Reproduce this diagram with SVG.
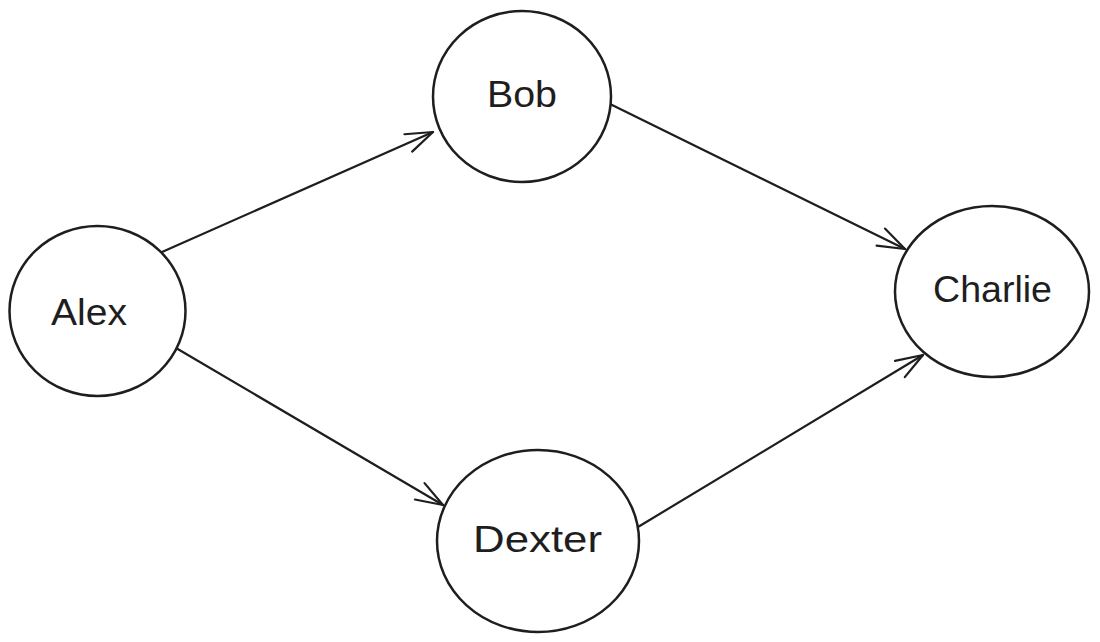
<svg xmlns="http://www.w3.org/2000/svg" width="1100" height="642" viewBox="0 0 1100 642">
<style>
.node{fill:#ffffff;stroke:#1e1e1e;stroke-width:2.5}
.lbl{font-family:"Liberation Sans",Arial,sans-serif;font-size:37px;fill:#1e1e1e;text-anchor:middle}
.edge{fill:none;stroke:#1e1e1e;stroke-width:2.2;stroke-linecap:round}
</style>
<defs>
<marker id="arr" markerUnits="userSpaceOnUse" viewBox="-30 -12 34 24" refX="0" refY="0" markerWidth="34" markerHeight="24" orient="auto">
<path d="M -27 -9.5 L 0 0 L -27 9.5" fill="none" stroke="#1e1e1e" stroke-width="2.2" stroke-linecap="round" stroke-linejoin="round"/>
</marker>
</defs>
<rect width="1100" height="642" fill="#ffffff"/>
<g id="connectors">
<line class="edge" x1="162" y1="252" x2="433" y2="132" marker-end="url(#arr)"/>
<line class="edge" x1="608" y1="103" x2="905" y2="249" marker-end="url(#arr)"/>
<line class="edge" x1="176" y1="348" x2="443" y2="505" marker-end="url(#arr)"/>
<line class="edge" x1="638" y1="527" x2="923" y2="355" marker-end="url(#arr)"/>
</g>
<g id="alex">
<ellipse class="node" cx="97.5" cy="311" rx="88" ry="85"/>
<text class="lbl" x="89" y="325" textLength="76" lengthAdjust="spacingAndGlyphs">Alex</text>
</g>
<g id="bob">
<ellipse class="node" cx="522" cy="96.5" rx="89" ry="85.5"/>
<text class="lbl" x="522" y="107" textLength="70" lengthAdjust="spacingAndGlyphs">Bob</text>
</g>
<g id="charlie">
<ellipse class="node" cx="992" cy="291.5" rx="97" ry="85.5"/>
<text class="lbl" x="992.5" y="302" textLength="119" lengthAdjust="spacingAndGlyphs">Charlie</text>
</g>
<g id="dexter">
<ellipse class="node" cx="538" cy="541" rx="101" ry="91"/>
<text class="lbl" x="537.5" y="552" textLength="129" lengthAdjust="spacingAndGlyphs">Dexter</text>
</g>
</svg>
